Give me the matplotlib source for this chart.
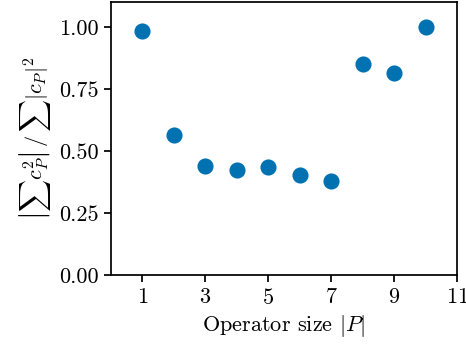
import numpy as np
import matplotlib
matplotlib.use("Agg")
import matplotlib.pyplot as plt

# operator size vs. ratio
sizes = [1, 2, 3, 4, 5, 6, 7, 8, 9, 10]
ratio = [0.985, 0.566, 0.438, 0.423, 0.435, 0.403, 0.378, 0.852, 0.812, 1.0]
x_ticks = [1, 3, 5, 7, 9, 11]
y_ticks = [0.0, 0.25, 0.5, 0.75, 1.0]

plt.rcParams['font.family'] = 'serif'
plt.rcParams['font.serif'] = ['cmr10', 'DejaVu Serif']
plt.rcParams['mathtext.fontset'] = 'cm'
plt.rcParams['axes.formatter.use_mathtext'] = True
plt.rcParams['axes.unicode_minus'] = False

fig = plt.figure(figsize=(4.66, 3.51), dpi=100)
ax = fig.add_axes([111 / 466, 1 - 275 / 351, 346 / 466, 273 / 351])

ax.scatter(sizes, ratio, s=135, color='#0072B2', linewidths=0, zorder=3)

ax.set_xlim(0, 11)
ax.set_ylim(0, 1.1)
ax.set_xticks(x_ticks)
ax.set_yticks(y_ticks)
ax.set_yticklabels([f'{v:.2f}' for v in y_ticks])
ax.tick_params(direction='out', length=5, width=1.25, labelsize=16, pad=4)
for sp in ax.spines.values():
    sp.set_linewidth(1.25)

ax.set_xlabel(r'Operator size $|P|$', fontsize=16, labelpad=4)
ax.set_ylabel(r'$\left|\sum c_P^2\right|\, /\, \sum |c_P|^2$', fontsize=16, labelpad=4)

fig.savefig('out.png', dpi=100)
